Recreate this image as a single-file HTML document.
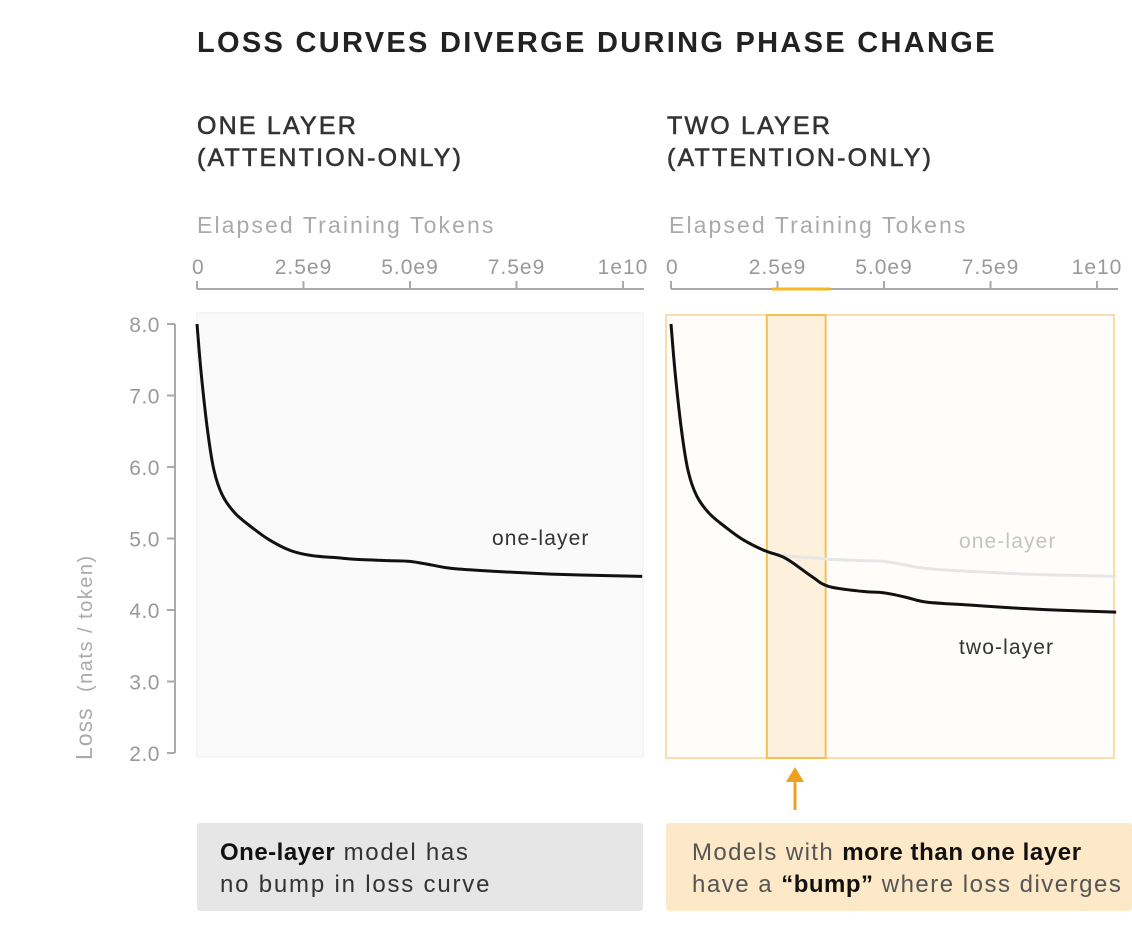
<!DOCTYPE html>
<html><head><meta charset="utf-8"><style>
body{margin:0;background:#fff;width:1132px;height:924px;overflow:hidden;font-family:"Liberation Sans",sans-serif}
svg text{font-family:"Liberation Sans",sans-serif}
</style></head><body>
<svg id="c" width="1132" height="924" xmlns="http://www.w3.org/2000/svg">
<text x="197" y="52" font-size="29" font-weight="bold" fill="#222" letter-spacing="2.3">LOSS CURVES DIVERGE DURING PHASE CHANGE</text>
<text x="197" y="134" font-size="25" fill="#333" stroke="#333" stroke-width="0.6" letter-spacing="2.2">ONE LAYER</text>
<text x="197" y="166" font-size="25" fill="#333" stroke="#333" stroke-width="0.6" letter-spacing="2.2">(ATTENTION-ONLY)</text>
<text x="667" y="134" font-size="25" fill="#333" stroke="#333" stroke-width="0.6" letter-spacing="2.2">TWO LAYER</text>
<text x="667" y="166" font-size="25" fill="#333" stroke="#333" stroke-width="0.6" letter-spacing="2.2">(ATTENTION-ONLY)</text>
<text x="197" y="233" font-size="23" fill="#aaa" letter-spacing="2.1">Elapsed Training Tokens</text>
<text x="669" y="233" font-size="23" fill="#aaa" letter-spacing="2.1">Elapsed Training Tokens</text>
<rect x="197" y="313" width="446" height="444" fill="#fafafa" stroke="#eee"/>
<rect x="666" y="315" width="448" height="443" fill="#fffdfa" stroke="#fbdcae" stroke-width="2"/>
<g transform="translate(92,760) rotate(-90)">
<text x="0" y="0" font-size="23" fill="#aaa" letter-spacing="1">Loss</text>
<text x="68" y="0" font-size="20" fill="#aaa" letter-spacing="1.5">(nats / token)</text>
</g>
<g id="g"></g>
<rect x="197" y="823" width="446" height="88" rx="3" fill="#e6e6e6"/>
<text x="220" y="860" font-size="24" fill="#333" letter-spacing="1.7"><tspan font-weight="bold" fill="#111" letter-spacing="0.5">One-layer</tspan> model has</text>
<text x="220" y="892" font-size="24" fill="#333" letter-spacing="1.8">no bump in loss curve</text>
<rect x="666" y="823" width="466" height="88" rx="3" fill="#fde9c8"/>
<text x="692" y="860" font-size="24" fill="#555" letter-spacing="1.4">Models with <tspan font-weight="bold" fill="#111" letter-spacing="0.6">more than one layer</tspan></text>
<text x="692" y="892" font-size="24" fill="#555" letter-spacing="1.5">have a <tspan font-weight="bold" fill="#111" letter-spacing="0.5">“bump”</tspan> where loss diverges</text>
<line x1="795" y1="810" x2="795" y2="778" stroke="#f0a020" stroke-width="3"/>
<polygon points="786,782 804,782 795,767" fill="#f0a020"/>
</svg>
<script>
const xTicks=[0,2.5e9,5e9,7.5e9,1e10];
const xTickLabels=["0","2.5e9","5.0e9","7.5e9","1e10"];
const yTicks=[8,7,6,5,4,3,2];
const yTickLabels=["8.0","7.0","6.0","5.0","4.0","3.0","2.0"];
const tokens=[0,0.1e9,0.25e9,0.4e9,0.6e9,0.9e9,1.3e9,1.7e9,2.2e9,2.7e9,3.3e9,3.7e9,4.5e9,5e9,5.5e9,6e9,7e9,8e9,9e9,1.045e10];
const oneLayer=[8.0,7.3,6.5,5.95,5.6,5.35,5.15,4.98,4.83,4.76,4.73,4.71,4.69,4.68,4.63,4.58,4.54,4.51,4.49,4.47];
const twoLayer=[8.0,7.3,6.5,5.95,5.6,5.35,5.15,4.98,4.83,4.72,4.47,4.33,4.26,4.24,4.18,4.11,4.07,4.03,4.0,3.97];
const phaseStart=2.25e9, phaseEnd=3.63e9;
const NS="http://www.w3.org/2000/svg";
const g=document.getElementById('g');
const yS=v=>324+(8-v)*71.5;
function mk(t,a,p){const e=document.createElementNS(NS,t);for(const k in a)e.setAttribute(k,a[k]);(p||g).appendChild(e);return e;}
function smooth(xS,vals){const p=tokens.map((t,i)=>[xS(t),yS(vals[i])]);let d='M'+p[0];for(let i=0;i<p.length-1;i++){const p0=p[Math.max(i-1,0)],p1=p[i],p2=p[i+1],p3=p[Math.min(i+2,p.length-1)];const c1=[p1[0]+(p2[0]-p0[0])/6,p1[1]+(p2[1]-p0[1])/6],c2=[p2[0]-(p3[0]-p1[0])/6,p2[1]-(p3[1]-p1[1])/6];d+='C'+c1+' '+c2+' '+p2;}return d;}
function xAxis(x0,name){
  const xS=v=>x0+v/2.5e9*106.5;
  const ax=mk('line',{x1:x0,y1:289,x2:x0+447,y2:289,stroke:'#aaa','stroke-width':2});
  
  
  xTicks.forEach((t,i)=>{
    const tk=mk('line',{x1:xS(t),y1:281,x2:xS(t),y2:289,stroke:'#aaa','stroke-width':2});
    
    
    const lb=mk('text',{x:i==0?xS(t)-5:xS(t),y:274,'font-size':21,fill:'#999','letter-spacing':1,'text-anchor':i==0?'start':'middle'});
    lb.textContent=xTickLabels[i];
    
    
  });
  return xS;
}
const xL=xAxis(197,'left');
const xR=xAxis(671,'right');
const ya=mk('line',{x1:175,y1:yS(8),x2:175,y2:yS(2),stroke:'#aaa','stroke-width':2});


yTicks.forEach((v,i)=>{
  const tk=mk('line',{x1:167,y1:yS(v),x2:175,y2:yS(v),stroke:'#aaa','stroke-width':2});
  
  
  const lb=mk('text',{x:160,y:yS(v)+8,'font-size':21,fill:'#999','letter-spacing':0.5,'text-anchor':'end'});
  lb.textContent=yTickLabels[i];
  
  
});
const band=mk('rect',{x:xR(phaseStart),y:315,width:xR(phaseEnd)-xR(phaseStart),height:443,fill:'#fdf1dd',stroke:'#f5c050','stroke-width':2});


const bm=mk('line',{x1:xR(phaseStart)+5,y1:289,x2:xR(phaseEnd)+5,y2:289,stroke:'#f5b820','stroke-width':3});


const l1=mk('path',{d:smooth(xL,oneLayer),fill:'none',stroke:'#111','stroke-width':3});


const l2=mk('path',{d:smooth(xR,oneLayer),fill:'none',stroke:'#e6e6e6','stroke-width':3});


const l3=mk('path',{d:smooth(xR,twoLayer),fill:'none',stroke:'#111','stroke-width':3});


const t1=mk('text',{x:492,y:545,'font-size':21,fill:'#333','letter-spacing':1.1});t1.textContent='one-layer';


const t2=mk('text',{x:959,y:548,'font-size':21,fill:'#c4c4c4','letter-spacing':1.1});t2.textContent='one-layer';


const t3=mk('text',{x:959,y:654,'font-size':21,fill:'#333','letter-spacing':1.1});t3.textContent='two-layer';


</script>
</body></html>
